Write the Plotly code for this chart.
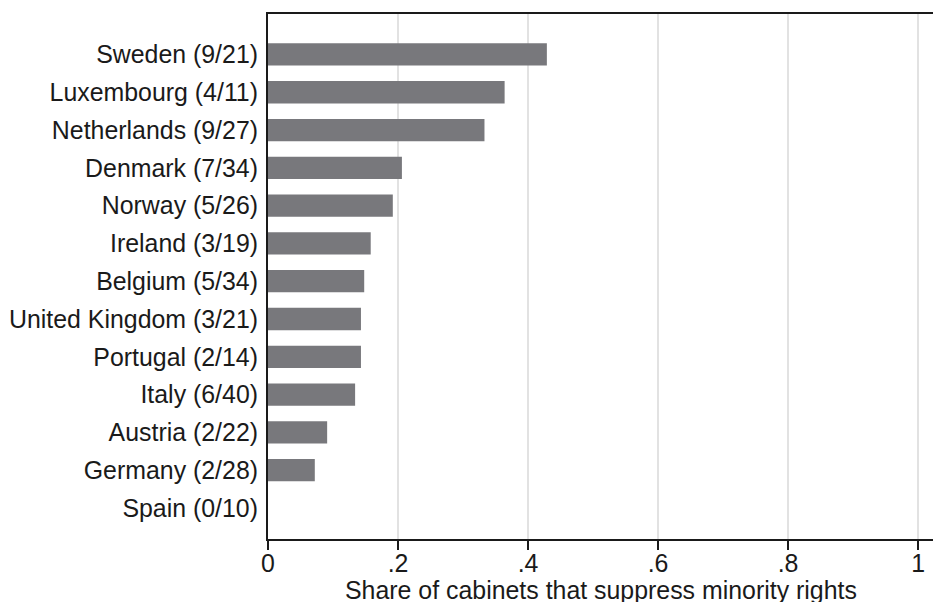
import plotly.graph_objects as go

countries = ["Sweden (9/21)", "Luxembourg (4/11)", "Netherlands (9/27)", "Denmark (7/34)",
             "Norway (5/26)", "Ireland (3/19)", "Belgium (5/34)", "United Kingdom (3/21)",
             "Portugal (2/14)", "Italy (6/40)", "Austria (2/22)", "Germany (2/28)", "Spain (0/10)"]
shares = [0.429, 0.364, 0.333, 0.206, 0.192, 0.158, 0.148, 0.143, 0.143, 0.134, 0.091, 0.072, 0.0]

tick_vals = [0, 0.2, 0.4, 0.6, 0.8, 1.0]
tick_text = ["0", ".2", ".4", ".6", ".8", "1"]
x_title = "Share of cabinets that suppress minority rights"

# plot bottom-to-top so Sweden is on top
cats = countries[::-1]
vals = shares[::-1]

fig = go.Figure(go.Bar(
    x=vals, y=cats, orientation="h",
    marker=dict(color="#78787c", line=dict(width=0)),
    width=0.59,
))

FS = 24.9
font = dict(family="Liberation Sans, Arial, Helvetica, sans-serif", size=FS, color="#1a1a1a")

fig.update_layout(
    width=933, height=602,
    margin=dict(l=268, r=0, t=14, b=63, autoexpand=False),
    paper_bgcolor="white", plot_bgcolor="white",
    font=font,
    showlegend=False,
    annotations=[dict(
        text=x_title, xref="paper", yref="paper",
        x=0.5, y=-0.097, xanchor="center", yanchor="middle",
        showarrow=False, font=dict(size=FS),
    )],
)
fig.update_xaxes(
    range=[0, 1.023],
    tickvals=tick_vals, ticktext=tick_text,
    showgrid=True, gridcolor="#e2e2e2", gridwidth=2,
    showline=True, linecolor="#1a1a1a", linewidth=2, mirror=True,
    ticks="outside", ticklen=9, tickwidth=1.5, tickcolor="#1a1a1a",
    ticklabelstandoff=-8,
    zeroline=False,
    automargin=False,
    fixedrange=True,
)
fig.update_yaxes(
    type="category",
    categoryorder="array", categoryarray=cats,
    range=[-0.82, 13.07],
    showgrid=False,
    showline=True, linecolor="#1a1a1a", linewidth=2,
    ticks="", ticklabelstandoff=3,
    automargin=False,
    fixedrange=True,
)

fig.write_html("out.html", config={"displayModeBar": False},
               post_script="document.body.style.margin='0';document.body.style.overflow='hidden';")
